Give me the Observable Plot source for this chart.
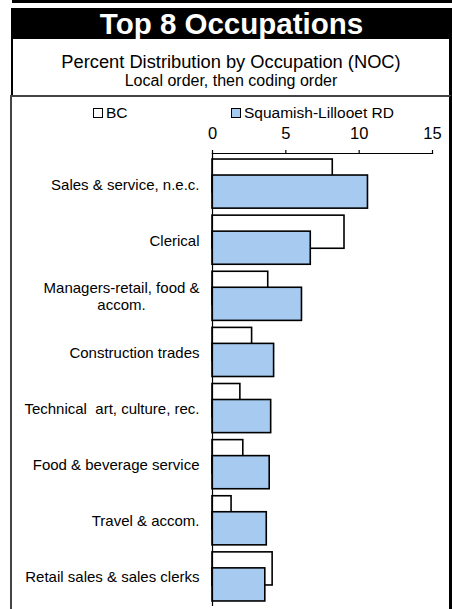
<!DOCTYPE html>
<html><head><meta charset="utf-8">
<script src="https://cdn.jsdelivr.net/npm/d3@7"></script>
<script src="https://cdn.jsdelivr.net/npm/@observablehq/plot@0.6"></script>
<style>
html,body{margin:0;padding:0;background:#fff;}
body{width:452px;height:609px;position:relative;overflow:hidden;font-family:"Liberation Sans",Arial,sans-serif;}
.abs{position:absolute;}
#topline{left:12px;top:0;width:440px;height:3px;background:#000;}
#title{left:11px;top:8px;width:441px;height:31px;background:#000;color:#fff;font-weight:bold;font-size:29.5px;line-height:31px;text-align:center;}
#sub{left:11px;top:39px;width:436px;height:57px;border-left:2px solid #000;border-right:3px solid #000;text-align:center;color:#000;}
#sub .l1{font-size:18.3px;margin-top:13px;line-height:20px;}
#sub .l2{font-size:16px;line-height:17px;}
#chart{left:0;top:96px;width:452px;height:513px;}
#frame{left:10px;top:95px;width:437px;height:520px;border-left:2px solid #444;border-top:2px solid #444;border-right:3px solid #000;}
#legend{top:104px;left:0;width:452px;height:18px;font-size:15.5px;}
.sw{position:absolute;top:4px;width:8px;height:8px;border:1.2px solid #000;}
.lt{position:absolute;top:0;line-height:18px;}
</style></head>
<body>
<div id="topline" class="abs"></div>
<div id="title" class="abs">Top 8 Occupations</div>
<div id="sub" class="abs"><div class="l1">Percent Distribution by Occupation (NOC)</div><div class="l2">Local order, then coding order</div></div>
<div id="frame" class="abs"></div>
<div id="chart" class="abs"></div>
<div id="legend" class="abs"></div>
<script>
const categories = ["Sales & service, n.e.c.","Clerical","Managers-retail, food &\naccom.","Construction trades","Technical  art, culture, rec.","Food & beverage service","Travel & accom.","Retail sales & sales clerks"];
const bcValues = [8.2, 9.0, 3.8, 2.7, 1.9, 2.1, 1.3, 4.1];
const slrdValues = [10.6, 6.7, 6.1, 4.2, 4.0, 3.9, 3.7, 3.6];
const seriesNames = ["BC", "Squamish-Lillooet RD"];
const seriesColors = ["#ffffff", "#a6caf0"];
const xTicks = [0, 5, 10, 15];

const bcData = categories.map((c, i) => ({cat: c, v: bcValues[i]}));
const slData = categories.map((c, i) => ({cat: c, v: slrdValues[i]}));

const plot = Plot.plot({
  width: 452,
  height: 513,
  marginLeft: 212,
  marginRight: 20,
  marginTop: 57,
  marginBottom: 3,
  style: {fontFamily: "Liberation Sans, Arial, sans-serif", color: "#000", background: "transparent"},
  x: {domain: [0, 15], axis: null},
  y: {type: "band", domain: categories, paddingInner: 0.41, paddingOuter: 0.25, round: false, range: [57, 511], axis: null},
  marks: [
    Plot.axisX({anchor: "top", ticks: xTicks, tickSize: 4, tickPadding: 11, fontSize: 16.5, stroke: "#000", strokeWidth: 1.2, label: null}),
    Plot.axisY({anchor: "left", tickSize: 0, tickPadding: 13, fontSize: 15, lineHeight: 1.15, label: null}),
    Plot.barX(bcData, {x: "v", y: "cat", dy: -8, fill: seriesColors[0], stroke: "#000", strokeWidth: 1.6}),
    Plot.barX(slData, {x: "v", y: "cat", dy: 8, fill: seriesColors[1], stroke: "#000", strokeWidth: 1.6}),
    Plot.frame({anchor: "top", stroke: "#000", strokeWidth: 1.2}),
    Plot.ruleX([0], {stroke: "#000", strokeWidth: 1.2})
  ]
});
document.getElementById("chart").appendChild(plot);

// center wrapped lines of multi-line category labels
plot.querySelectorAll("text").forEach(t => {
  const ts = t.querySelectorAll("tspan");
  if (ts.length > 1) {
    const w = t.getBBox().width;
    t.setAttribute("text-anchor", "middle");
    ts.forEach(s => s.setAttribute("x", String(-w / 2 + (parseFloat(s.getAttribute("x")) || 0))));
  }
});

// legend
const legend = document.getElementById("legend");
const legendPos = [93, 231];
seriesNames.forEach((n, i) => {
  const sw = document.createElement("div");
  sw.className = "sw"; sw.style.left = legendPos[i] + "px"; sw.style.background = seriesColors[i];
  legend.appendChild(sw);
  const t = document.createElement("div");
  t.className = "lt"; t.style.left = (legendPos[i] + 13) + "px"; t.textContent = n;
  legend.appendChild(t);
});
</script>
</body></html>
